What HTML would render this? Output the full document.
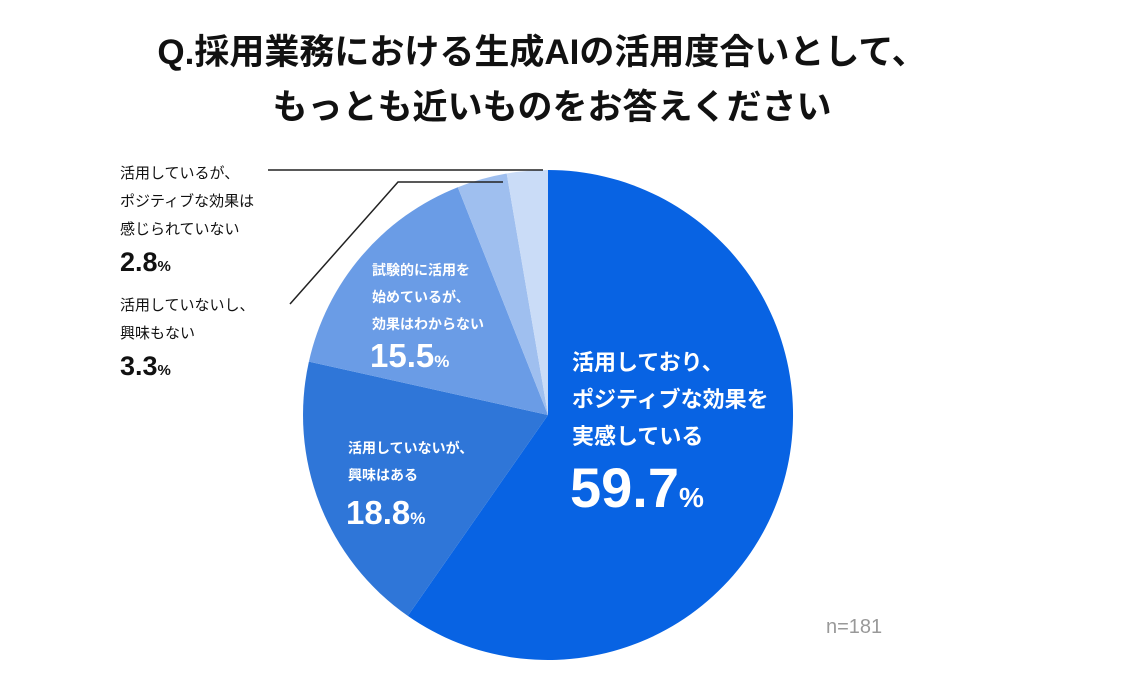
<!DOCTYPE html>
<html><head><meta charset="utf-8"><style>
body{margin:0;background:#fff;}
svg text{font-family:"Liberation Sans","Noto Sans CJK JP",sans-serif;}
</style></head><body>
<svg width="1142" height="688" viewBox="0 0 1142 688" xmlns="http://www.w3.org/2000/svg">
<rect width="1142" height="688" fill="#fff"/>
<text x="542" y="64" font-size="35" font-weight="bold" text-anchor="middle" fill="#111">Q.採用業務における生成AIの活用度合いとして、</text>
<text x="552" y="119" font-size="35" font-weight="bold" text-anchor="middle" fill="#111">もっとも近いものをお答えください</text>
<g transform="translate(548,415)">
<path d="M0,0 L0,-245 A245,245 0 1 1 -140.2,200.9 Z" fill="#0863e3"/>
<path d="M0,0 L-140.2,200.9 A245,245 0 0 1 -239.1,-53.4 Z" fill="#2f76d8"/>
<path d="M0,0 L-239.1,-53.4 A245,245 0 0 1 -90.2,-227.8 Z" fill="#6a9ce6"/>
<path d="M0,0 L-90.2,-227.8 A245,245 0 0 1 -41.3,-241.5 Z" fill="#9fbfef"/>
<path d="M0,0 L-41.3,-241.5 A245,245 0 0 1 0,-245 Z" fill="#cadcf7"/>
</g>
<polyline points="268,170 543,170" fill="none" stroke="#222" stroke-width="1.5"/>
<polyline points="290,304 398,182 503,182" fill="none" stroke="#222" stroke-width="1.5"/>
<g fill="#111" font-size="15">
<text x="120" y="178">活用しているが、</text>
<text x="120" y="206">ポジティブな効果は</text>
<text x="120" y="234">感じられていない</text>
<text x="120" y="271" font-size="27" font-weight="bold">2.8<tspan font-size="15">%</tspan></text>
<text x="120" y="310">活用していないし、</text>
<text x="120" y="338">興味もない</text>
<text x="120" y="375" font-size="27" font-weight="bold">3.3<tspan font-size="15">%</tspan></text>
</g>
<g fill="#fff" font-weight="bold">
<text x="372" y="275" font-size="14">試験的に活用を</text>
<text x="372" y="302" font-size="14">始めているが、</text>
<text x="372" y="329" font-size="14">効果はわからない</text>
<text x="370" y="367" font-size="33">15.5<tspan font-size="17">%</tspan></text>
<text x="348" y="453" font-size="14">活用していないが、</text>
<text x="348" y="480" font-size="14">興味はある</text>
<text x="346" y="524" font-size="33">18.8<tspan font-size="17">%</tspan></text>
<text x="572" y="370" font-size="22">活用しており、</text>
<text x="572" y="407" font-size="22">ポジティブな効果を</text>
<text x="572" y="444" font-size="22">実感している</text>
<text x="570" y="507" font-size="56">59.7<tspan font-size="28">%</tspan></text>
</g>
<text x="826" y="633" font-size="20" fill="#999">n=181</text>
</svg>
</body></html>
